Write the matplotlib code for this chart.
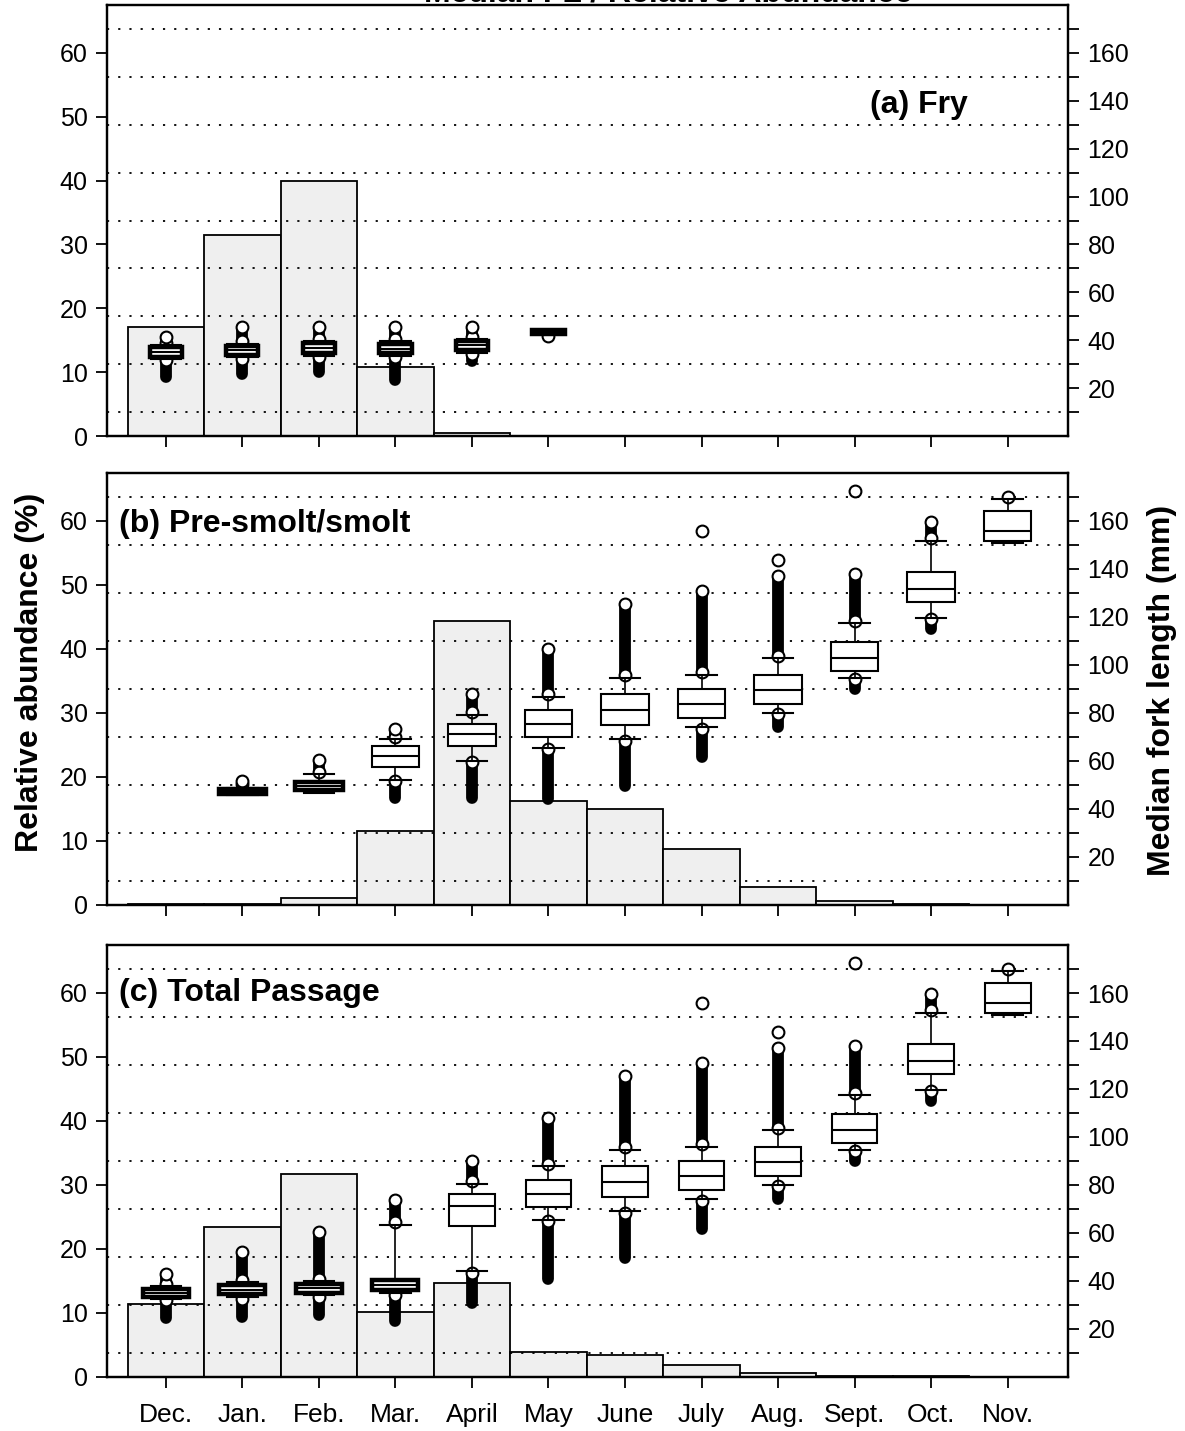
import numpy as np
import matplotlib.pyplot as plt
from matplotlib.ticker import MultipleLocator

plt.rcParams['font.family'] = ['Liberation Sans', 'DejaVu Sans']

months = ['Dec.', 'Jan.', 'Feb.', 'Mar.', 'April', 'May', 'June', 'July',
          'Aug.', 'Sept.', 'Oct.', 'Nov.']

# relative abundance (%) per month
fry_pct = [17.0, 31.5, 40.0, 10.8, 0.5, 0, 0, 0, 0, 0, 0, 0]
smolt_pct = [0.1, 0.2, 1.1, 11.6, 44.4, 16.3, 15.0, 8.7, 2.8, 0.6, 0.1, 0.05]
total_pct = [11.4, 23.5, 31.7, 10.1, 14.7, 3.9, 3.5, 1.8, 0.7, 0.2, 0.1, 0.05]

# fork length boxes (mm) -- fry, Dec. to May
fry_pos = [0, 1, 2, 3, 4, 5]
fry_q1 = [33.0, 33.8, 34.5, 34.5, 35.8, 42.6]
fry_med = [35.0, 35.8, 36.6, 36.5, 37.8, 43.4]
fry_q3 = [37.0, 37.6, 38.8, 38.6, 39.5, 44.2]
fry_wlo = [32.0, 32.8, 33.5, 33.5, 34.8, 42.6]
fry_whi = [38.0, 38.6, 39.8, 39.6, 40.5, 44.2]
fry_up = [(38.8, 41.5), (39.6, 45.7), (40.6, 45.7), (40.4, 45.4), (41.3, 45.4), None]
fry_low = [(31.6, 24.6), (32.3, 25.7), (33.0, 26.7), (33.0, 23.5), (34.2, 31.5), (41.6, 41.6)]
fry_extra = [None, None, None, None, None, None]

# pre-smolt/smolt, Jan. to Nov.
smolt_pos = [1, 2, 3, 4, 5, 6, 7, 8, 9, 10, 11]
smolt_q1 = [46.3, 48.0, 57.4, 66.1, 70.1, 75.0, 78.0, 83.8, 97.5, 126.3, 151.7]
smolt_med = [47.4, 49.4, 62.0, 71.2, 75.5, 81.3, 83.8, 89.6, 102.9, 131.7, 155.8]
smolt_q3 = [48.5, 51.4, 66.4, 75.5, 81.3, 87.9, 90.0, 95.8, 109.6, 138.8, 164.0]
smolt_wlo = [46.0, 46.5, 52.2, 60.1, 65.3, 69.2, 74.2, 80.0, 94.6, 119.6, 151.0]
smolt_whi = [48.8, 54.6, 69.2, 79.2, 86.7, 94.6, 95.8, 102.9, 117.5, 151.7, 169.0]
smolt_up = [(50.5, 51.5), (55.3, 60.5), (70.0, 73.3), (80.3, 88.0), (87.8, 106.7),
            (96.0, 125.4), (97.0, 130.8), (103.8, 137.0), (118.3, 137.9),
            (153.0, 159.6), (170.0, 170.0)]
smolt_low = [None, None, (51.8, 44.4), (59.4, 44.4), (65.0, 44.2), (68.3, 49.5),
             (73.3, 61.7), (79.6, 74.2), (94.2, 90.0), (119.2, 115.0), None]
smolt_extra = [None, None, None, None, None, None, 155.8, 143.8, 172.5, None, None]

# total passage, Dec. to Nov.
total_pos = [0, 1, 2, 3, 4, 5, 6, 7, 8, 9, 10, 11]
total_q1 = [33.3, 34.7, 35.0, 36.1, 62.8, 70.8, 75.0, 78.0, 83.8, 97.5, 126.3, 151.7]
total_med = [35.0, 36.4, 37.0, 38.2, 71.1, 76.4, 81.3, 83.8, 89.6, 102.9, 131.7, 155.8]
total_q3 = [36.8, 38.2, 38.9, 40.3, 76.4, 82.0, 87.9, 90.0, 95.8, 109.6, 138.8, 164.0]
total_wlo = [32.5, 33.5, 34.0, 35.0, 44.2, 65.3, 69.2, 74.2, 80.0, 94.6, 119.6, 151.0]
total_whi = [37.8, 39.5, 40.0, 63.2, 80.3, 87.9, 94.6, 95.8, 102.9, 117.5, 151.7, 169.0]
total_up = [(38.8, 42.8), (40.5, 52.0), (41.0, 60.5), (64.6, 73.6), (81.5, 90.0),
            (88.9, 108.0), (96.0, 125.4), (97.0, 130.8), (103.8, 137.0),
            (118.3, 137.9), (153.0, 159.6), (170.0, 170.0)]
total_low = [(31.9, 24.5), (32.7, 25.0), (33.3, 26.0), (34.0, 23.5), (43.5, 31.0),
             (65.0, 41.0), (68.3, 49.5), (73.3, 61.7), (79.6, 74.2), (94.2, 90.0),
             (119.2, 115.0), None]
total_extra = [None, None, None, None, None, None, None, 155.8, 143.8, 172.5, None, None]

bar_color = '#efefef'
W, H = 1185, 1431
fig = plt.figure(figsize=(W / 100, H / 100), dpi=100)

x = np.arange(len(months))


def panel(top, bottom, pct, pos, q1, med, q3, wlo, whi, up, low, extra,
          box_w, label, label_xy, label_ha, show_x):
    ax = fig.add_axes([107 / W, 1 - bottom / H, 961 / W, (bottom - top) / H])
    ax.bar(x, pct, width=1.0, color=bar_color, edgecolor='k', linewidth=1.3, zorder=1)
    ax.set_xlim(-0.77, 11.79)
    ax.set_ylim(0, 67.5)
    ax.yaxis.set_major_locator(MultipleLocator(10))
    ax.set_xticks(x)
    if show_x:
        ax.set_xticklabels(months)
    else:
        ax.set_xticklabels([])
    ax.tick_params(axis='both', direction='out', length=8, width=1.3, labelsize=18, pad=6)
    ax.tick_params(axis='x', labelsize=19, pad=11)
    for s in ax.spines.values():
        s.set_linewidth(1.6)

    ax2 = ax.twinx()
    ax2.set_ylim(0, 180)
    ax2.set_yticks(np.arange(20, 161, 20))
    ax2.set_yticks(np.arange(10, 171, 20), minor=True)
    ax2.tick_params(axis='y', which='both', direction='out', length=8, width=1.3,
                    labelsize=18, pad=6)
    ax2.grid(which='minor', axis='y', color='k', linestyle=(0, (1.2, 5)), linewidth=1.3)
    ax2.set_axisbelow(True)
    for s in ax2.spines.values():
        s.set_linewidth(1.6)

    stats = []
    for i in range(len(pos)):
        stats.append(dict(med=med[i], q1=q1[i], q3=q3[i], whislo=wlo[i],
                          whishi=whi[i], fliers=[]))
    arts = ax2.bxp(stats, positions=pos, widths=box_w, capwidths=0.4, showfliers=False,
                   patch_artist=True, manage_ticks=False,
                   boxprops=dict(facecolor='white', edgecolor='k', linewidth=1.5),
                   medianprops=dict(color='k', linewidth=1.5),
                   whiskerprops=dict(color='k', linewidth=1.2),
                   capprops=dict(color='k', linewidth=1.5), zorder=4)
    # very short boxes print as nearly solid black in the original
    for b, lo, hi in zip(arts['boxes'], q1, q3):
        if hi - lo < 6:
            b.set_linewidth(3.2)

    # dense runs of outliers
    for p, span in zip(pos + pos, up + low):
        if span is None:
            continue
        a, b = span
        if a != b:
            ax2.plot([p, p], [a, b], color='k', linewidth=8.5, solid_capstyle='round', zorder=3)
        ax2.plot([p], [a], 'o', ms=8.5, mfc='white', mec='k', mew=1.5, zorder=3.5)
    for p, span in zip(pos, up):
        if span is not None and span[0] != span[1]:
            ax2.plot([p], [span[1]], 'o', ms=8.5, mfc='white', mec='k', mew=1.5, zorder=3.5)
    for p, e in zip(pos, extra):
        if e is not None:
            ax2.plot([p], [e], 'o', ms=8.5, mfc='white', mec='k', mew=1.5, zorder=3.5)

    ax.text(label_xy[0], label_xy[1], label, transform=ax.transAxes, ha=label_ha,
            va='center', fontsize=23, fontweight='bold', zorder=5)
    return ax, ax2


panel(5, 436, fry_pct, fry_pos, fry_q1, fry_med, fry_q3, fry_wlo, fry_whi,
      fry_up, fry_low, fry_extra, 0.42, '(a) Fry', (0.896, 0.768), 'right', False)
panel(473, 905, smolt_pct, smolt_pos, smolt_q1, smolt_med, smolt_q3, smolt_wlo,
      smolt_whi, smolt_up, smolt_low, smolt_extra, 0.62, '(b) Pre-smolt/smolt',
      (0.012, 0.882), 'left', False)
panel(945, 1377, total_pct, total_pos, total_q1, total_med, total_q3, total_wlo,
      total_whi, total_up, total_low, total_extra, 0.6, '(c) Total Passage',
      (0.012, 0.889), 'left', True)

fig.text(30 / W, 1 - 672 / H, 'Relative abundance (%)', rotation=90, ha='center',
         va='center', fontsize=23, fontweight='bold')
fig.text(1162 / W, 1 - 690 / H, 'Median fork length (mm)', rotation=90, ha='center',
         va='center', fontsize=23, fontweight='bold')
# figure title, cut off at the top edge in the original scan
fig.text(668 / W, 1 - 1 / H, 'Median FL / Relative Abundance', ha='center',
         va='baseline', fontsize=23, fontweight='bold')

fig.savefig('out.png', dpi=100)
